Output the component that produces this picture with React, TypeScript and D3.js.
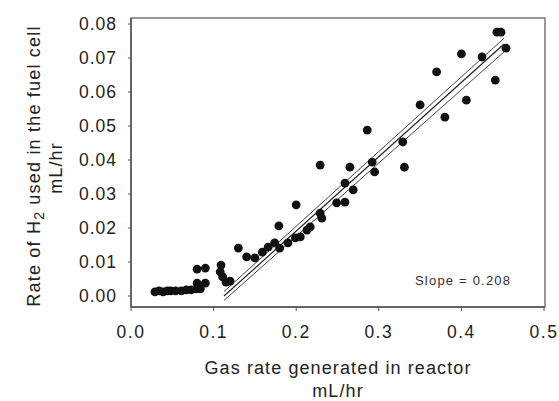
import React from 'react';
import * as d3 from 'd3';

// Gas rate generated in reactor (mL/hr)
const gasRate = [
  0.029, 0.034, 0.039, 0.044, 0.048, 0.054, 0.061, 0.067, 0.073, 0.079, 0.084,
  0.080, 0.090, 0.080, 0.090,
  0.109, 0.108, 0.111, 0.115, 0.120,
  0.130, 0.140, 0.150, 0.159, 0.166, 0.174, 0.180, 0.190, 0.179, 0.199, 0.200,
  0.205, 0.213, 0.217, 0.229, 0.231, 0.249, 0.259, 0.259, 0.269,
  0.229, 0.265, 0.292, 0.295, 0.331, 0.286, 0.329,
  0.350, 0.380, 0.370, 0.406, 0.400, 0.425, 0.441, 0.443, 0.448, 0.454,
];
// Rate of H2 used in the fuel cell (mL/hr)
const h2Rate = [
  0.0012, 0.0015, 0.0012, 0.0015, 0.0015, 0.0015, 0.0015, 0.0018, 0.0018, 0.0021, 0.0021,
  0.0038, 0.0038, 0.0079, 0.0082,
  0.0091, 0.0071, 0.0056, 0.0041, 0.0044,
  0.0141, 0.0115, 0.0112, 0.0129, 0.0144, 0.0156, 0.0141, 0.0156, 0.0206, 0.0171, 0.0268,
  0.0174, 0.0194, 0.0203, 0.0244, 0.0229, 0.0274, 0.0276, 0.0332, 0.0312,
  0.0385, 0.0379, 0.0394, 0.0365, 0.0379, 0.0488, 0.0453,
  0.0562, 0.0526, 0.0659, 0.0576, 0.0712, 0.0703, 0.0635, 0.0776, 0.0776, 0.0729,
];

// Regression line and confidence band end points
const fitX = [0.1126, 0.4516];
const fitY = [0.0, 0.0741];
const upperY = [0.0013, 0.0758];
const lowerY = [-0.0013, 0.0718];

const xTicks = [0, 0.1, 0.2, 0.3, 0.4, 0.5];
const yTicks = [0, 0.01, 0.02, 0.03, 0.04, 0.05, 0.06, 0.07, 0.08];
const xTickLabels = ['0.0', '0.1', '0.2', '0.3', '0.4', '0.5'];
const yTickLabels = ['0.00', '0.01', '0.02', '0.03', '0.04', '0.05', '0.06', '0.07', '0.08'];
const slopeLabel = 'Slope = 0.208';
const xTitle = ['Gas rate generated in reactor', 'mL/hr'];
const yTitleParts = ['Rate of H', '2', ' used in the fuel cell'];
const yTitleUnit = 'mL/hr';

const W = 559;
const H = 401;
const font = '"Liberation Sans", Arial, sans-serif';

export default function App() {
  const x = d3.scaleLinear().domain([0, 0.5]).range([131, 544]);
  const y = d3.scaleLinear().domain([0, 0.08]).range([296, 24]);
  const frameTop = 18;
  const frameBottom = 307;
  const frameLeft = 131;
  const frameRight = 545;

  const line = d3
    .line<[number, number]>()
    .x((d) => x(d[0]))
    .y((d) => y(d[1]));

  const mk = (ys: number[]) => fitX.map((v, i) => [v, ys[i]] as [number, number]);

  return (
    <svg
      width={W}
      height={H}
      style={{ position: 'absolute', left: 0, top: 0, background: '#fff' }}
      fontFamily={font}
    >
      <rect x={0} y={0} width={W} height={H} fill="#fff" />
      {/* frame */}
      <rect
        x={frameLeft}
        y={frameTop}
        width={frameRight - frameLeft}
        height={frameBottom - frameTop}
        fill="none"
        stroke="#777"
        strokeWidth={1.5}
      />
      <line x1={frameLeft} x2={frameLeft} y1={frameTop} y2={frameBottom} stroke="#555" strokeWidth={1.5} />
      <line x1={frameLeft} x2={frameRight} y1={frameBottom} y2={frameBottom} stroke="#555" strokeWidth={1.5} />

      {/* y ticks */}
      {yTicks.map((t, i) => (
        <g key={'y' + i}>
          <line x1={frameLeft - 3} x2={frameLeft} y1={y(t)} y2={y(t)} stroke="#555" strokeWidth={1} />
          <text
            x={117}
            y={y(t) + 6}
            textAnchor="end"
            fontSize={17.5}
            letterSpacing={1}
            fill="#222"
          >
            {yTickLabels[i]}
          </text>
        </g>
      ))}
      {/* x ticks */}
      {xTicks.map((t, i) => (
        <g key={'x' + i}>
          <line x1={x(t)} x2={x(t)} y1={frameBottom} y2={frameBottom + 4} stroke="#555" strokeWidth={1} />
          <text x={x(t)} y={338} textAnchor="middle" fontSize={17.5} letterSpacing={1.5} fill="#222">
            {xTickLabels[i]}
          </text>
        </g>
      ))}

      {/* regression and confidence lines */}
      <path d={line(mk(upperY)) || ''} fill="none" stroke="#444" strokeWidth={1} />
      <path d={line(mk(fitY)) || ''} fill="none" stroke="#222" strokeWidth={1.2} />
      <path d={line(mk(lowerY)) || ''} fill="none" stroke="#444" strokeWidth={1} />

      {/* points */}
      {gasRate.map((g, i) => (
        <circle key={'p' + i} cx={x(g)} cy={y(h2Rate[i])} r={4.4} fill="#111" />
      ))}

      {/* slope label */}
      <text x={415} y={285} fontSize={13} letterSpacing={1.2} fill="#333">
        {slopeLabel}
      </text>

      {/* x title */}
      <text x={338} y={374} textAnchor="middle" fontSize={18} letterSpacing={1.1} fill="#222">
        {xTitle[0]}
      </text>
      <text x={338} y={397} textAnchor="middle" fontSize={18} letterSpacing={1.1} fill="#222">
        {xTitle[1]}
      </text>

      {/* y title */}
      <text
        transform="translate(40,166) rotate(-90)"
        textAnchor="middle"
        fontSize={18}
        letterSpacing={1.2}
        fill="#222"
      >
        {yTitleParts[0]}
        <tspan fontSize={14} dy={4}>{yTitleParts[1]}</tspan>
        <tspan dy={-4}>{yTitleParts[2]}</tspan>
      </text>
      <text
        transform="translate(62,168) rotate(-90)"
        textAnchor="middle"
        fontSize={18}
        letterSpacing={1.1}
        fill="#222"
      >
        {yTitleUnit}
      </text>
    </svg>
  );
}
